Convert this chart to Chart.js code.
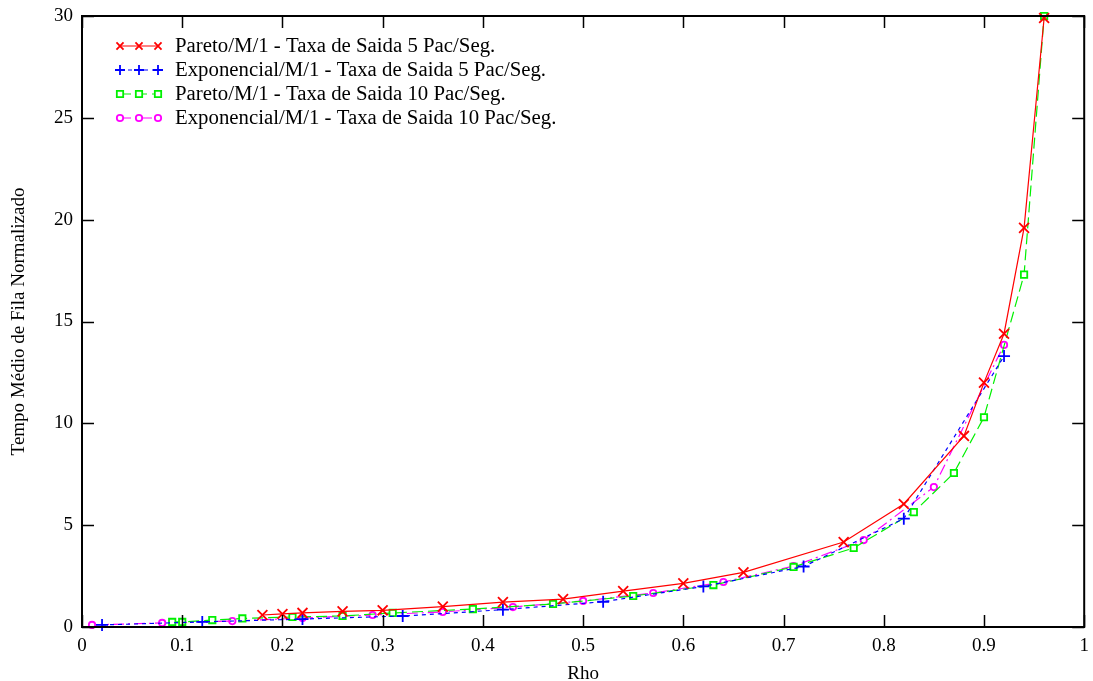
<!DOCTYPE html>
<html>
<head>
<meta charset="utf-8">
<title>Tempo Médio de Fila Normalizado x Rho</title>
<script src="https://cdn.jsdelivr.net/npm/chart.js@4/dist/chart.umd.min.js"></script>
<style>
  html, body { margin: 0; padding: 0; background: #ffffff; }
  #wrap { width: 1093px; height: 681px; }
</style>
</head>
<body>
<div id="wrap"><canvas id="grafico" width="1093" height="681"></canvas></div>
<script>
// Tempo médio de fila normalizado em função da utilização (Rho)

// Pareto/M/1 - taxa de saída 5 pac/seg
const rhoPareto5 = [0.18, 0.20, 0.22, 0.26, 0.30, 0.36, 0.42, 0.48, 0.54, 0.60, 0.66, 0.76, 0.82, 0.88, 0.90, 0.92, 0.94, 0.96];
const filaPareto5 = [0.59, 0.64, 0.69, 0.77, 0.82, 1.00, 1.22, 1.37, 1.76, 2.14, 2.68, 4.17, 6.04, 9.38, 12.0, 14.4, 19.6, 29.9];

// Exponencial/M/1 - taxa de saída 5 pac/seg
const rhoExp5 = [0.02, 0.12, 0.22, 0.32, 0.42, 0.52, 0.62, 0.72, 0.82, 0.92];
const filaExp5 = [0.10, 0.25, 0.39, 0.54, 0.85, 1.24, 1.99, 2.97, 5.32, 13.3];

// Pareto/M/1 - taxa de saída 10 pac/seg
const rhoPareto10 = [0.09, 0.10, 0.13, 0.16, 0.21, 0.26, 0.31, 0.39, 0.47, 0.55, 0.63, 0.71, 0.77, 0.83, 0.87, 0.90, 0.94, 0.96];
const filaPareto10 = [0.25, 0.25, 0.34, 0.42, 0.49, 0.54, 0.69, 0.88, 1.13, 1.52, 2.06, 2.95, 3.88, 5.64, 7.56, 10.3, 17.3, 30.0];

// Exponencial/M/1 - taxa de saída 10 pac/seg
const rhoExp10 = [0.01, 0.08, 0.15, 0.22, 0.29, 0.36, 0.43, 0.50, 0.57, 0.64, 0.71, 0.78, 0.85, 0.92];
const filaExp10 = [0.10, 0.20, 0.29, 0.44, 0.59, 0.74, 0.98, 1.28, 1.67, 2.21, 2.99, 4.27, 6.87, 13.85];

// Eixos
const ticksRho = [0, 0.1, 0.2, 0.3, 0.4, 0.5, 0.6, 0.7, 0.8, 0.9, 1];
const ticksFila = [0, 5, 10, 15, 20, 25, 30];

const rotulos = [
  'Pareto/M/1 - Taxa de Saida 5 Pac/Seg.',
  'Exponencial/M/1 - Taxa de Saida 5 Pac/Seg.',
  'Pareto/M/1 - Taxa de Saida 10 Pac/Seg.',
  'Exponencial/M/1 - Taxa de Saida 10 Pac/Seg.'
];

const SERIF = "'Liberation Serif', 'Times New Roman', serif";

function pares(xs, ys) {
  return xs.map((x, i) => ({ x: x, y: ys[i] }));
}

const estilos = [
  { cor: '#ff0000', dash: [], ponto: 'crossRot', raio: 7 },
  { cor: '#0000ff', dash: [4, 4], ponto: 'cross', raio: 6 },
  { cor: '#00f000', dash: [11, 5], ponto: 'rect', raio: 4.5 },
  { cor: '#ff00ff', dash: [11, 4, 2, 4], ponto: 'circle', raio: 3.2 }
];

const series = [
  pares(rhoPareto5, filaPareto5),
  pares(rhoExp5, filaExp5),
  pares(rhoPareto10, filaPareto10),
  pares(rhoExp10, filaExp10)
];

const datasets = series.map((dados, i) => ({
  label: rotulos[i],
  data: dados,
  borderColor: estilos[i].cor,
  backgroundColor: 'rgba(0,0,0,0)',
  borderWidth: 1.2,
  borderDash: estilos[i].dash,
  pointStyle: estilos[i].ponto,
  pointRadius: estilos[i].raio,
  pointBorderColor: estilos[i].cor,
  pointBackgroundColor: '#ffffff',
  pointBorderWidth: 1.8,
  tension: 0,
  fill: false,
  clip: false
}));

// Moldura com marcas de escala internas nos quatro lados
const moldura = {
  id: 'moldura',
  afterDatasetsDraw(chart) {
    const { ctx, chartArea: a, scales } = chart;
    const tam = 12;
    ctx.save();
    ctx.strokeStyle = '#000000';
    ctx.lineWidth = 1.5;
    ctx.beginPath();
    scales.x.ticks.forEach(t => {
      const px = Math.round(scales.x.getPixelForValue(t.value)) + 0.5;
      ctx.moveTo(px, a.bottom); ctx.lineTo(px, a.bottom - tam);
      ctx.moveTo(px, a.top); ctx.lineTo(px, a.top + tam);
    });
    scales.y.ticks.forEach(t => {
      const py = Math.round(scales.y.getPixelForValue(t.value)) + 0.5;
      ctx.moveTo(a.left, py); ctx.lineTo(a.left + tam, py);
      ctx.moveTo(a.right, py); ctx.lineTo(a.right - tam, py);
    });
    ctx.stroke();
    ctx.lineWidth = 2;
    ctx.strokeRect(a.left, a.top, a.right - a.left, a.bottom - a.top);
    ctx.restore();
  }
};

// Legenda no canto superior esquerdo da área do gráfico
const legenda = {
  id: 'legenda',
  afterDraw(chart) {
    const { ctx } = chart;
    const y0 = 46, passo = 24;
    const xs = [120, 139, 158];
    ctx.save();
    chart.data.datasets.forEach((ds, i) => {
      const y = y0 + i * passo;
      ctx.strokeStyle = ds.borderColor;
      ctx.lineWidth = ds.borderWidth;
      ctx.setLineDash(ds.borderDash);
      ctx.beginPath();
      ctx.moveTo(xs[0], y);
      ctx.lineTo(xs[2], y);
      ctx.stroke();
      ctx.setLineDash([]);
      xs.forEach(x => {
        ctx.fillStyle = '#ffffff';
        ctx.strokeStyle = ds.pointBorderColor;
        ctx.lineWidth = ds.pointBorderWidth;
        Chart.helpers.drawPoint(ctx, {
          pointStyle: ds.pointStyle,
          radius: Math.min(ds.pointRadius, 5),
          borderWidth: ds.pointBorderWidth,
          rotation: 0
        }, x, y);
      });
      ctx.fillStyle = '#000000';
      ctx.font = '20.8px ' + SERIF;
      ctx.textBaseline = 'middle';
      ctx.textAlign = 'left';
      ctx.fillText(ds.label, 175, y + 1);
    });
    ctx.restore();
  }
};

new Chart(document.getElementById('grafico'), {
  type: 'line',
  data: { datasets: datasets },
  options: {
    responsive: false,
    animation: false,
    devicePixelRatio: 1,
    layout: { padding: { top: 16, right: 8, left: 0, bottom: 0 } },
    plugins: {
      legend: { display: false },
      tooltip: { enabled: false }
    },
    scales: {
      x: {
        type: 'linear',
        min: 0,
        max: 1,
        afterBuildTicks(scale) {
          scale.ticks = ticksRho.map(v => ({ value: v }));
        },
        afterFit(scale) {
          scale.height = 54;
          scale.paddingLeft = 0;
          scale.paddingRight = 0;
        },
        grid: { display: false, drawTicks: false },
        border: { display: false },
        ticks: {
          color: '#000000',
          font: { family: SERIF, size: 19 },
          padding: 8,
          maxRotation: 0,
          autoSkip: false,
          callback: v => String(+v.toFixed(1))
        },
        title: {
          display: true,
          text: 'Rho',
          color: '#000000',
          font: { family: SERIF, size: 19 },
          padding: { top: 9, bottom: -4 }
        }
      },
      y: {
        type: 'linear',
        min: 0,
        max: 30,
        afterBuildTicks(scale) {
          scale.ticks = ticksFila.map(v => ({ value: v }));
        },
        afterFit(scale) {
          scale.width = 82;
          scale.paddingTop = 0;
          scale.paddingBottom = 0;
        },
        grid: { display: false, drawTicks: false },
        border: { display: false },
        ticks: {
          color: '#000000',
          font: { family: SERIF, size: 19 },
          padding: 9,
          autoSkip: false,
          callback: v => String(v)
        },
        title: {
          display: true,
          text: 'Tempo Médio de Fila Normalizado',
          color: '#000000',
          font: { family: SERIF, size: 19 },
          padding: { top: 8, bottom: 0 }
        }
      }
    }
  },
  plugins: [moldura, legenda]
});
</script>
</body>
</html>
